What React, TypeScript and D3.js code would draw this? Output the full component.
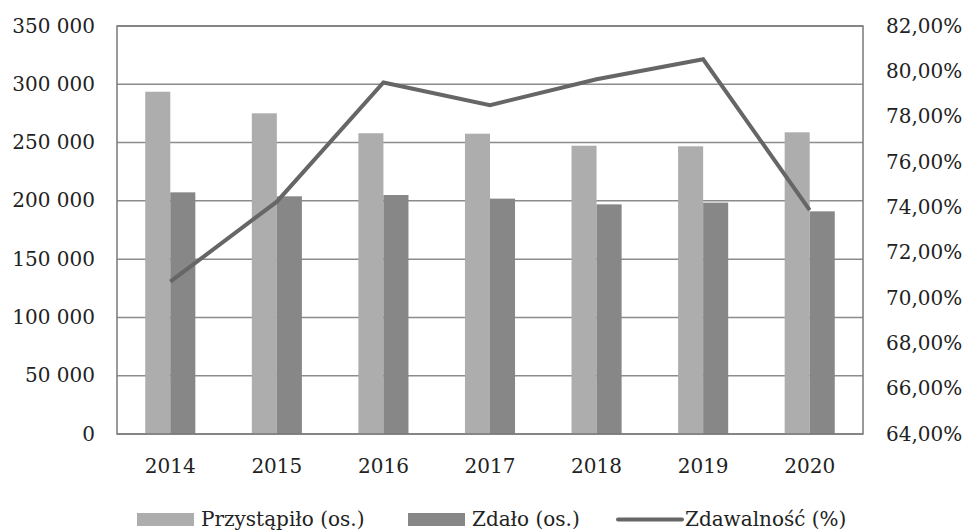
import React from "react";
import * as d3 from "d3";

const years = ["2014", "2015", "2016", "2017", "2018", "2019", "2020"];
const przystapilo = [293600, 275100, 258000, 257600, 247300, 246800, 258800];
const zdalo = [207300, 203900, 205000, 201900, 197000, 198500, 191000];
const zdawalnosc = [0.7072, 0.7425, 0.7951, 0.7851, 0.7965, 0.8053, 0.7388];
const leftTicks = [0, 50000, 100000, 150000, 200000, 250000, 300000, 350000];
const rightTicks = [0.64, 0.66, 0.68, 0.7, 0.72, 0.74, 0.76, 0.78, 0.8, 0.82];
const seriesNames = ["Przystąpiło (os.)", "Zdało (os.)", "Zdawalność (%)"];

const W = 965;
const H = 531;
const plot = { left: 117, right: 863, top: 26, bottom: 434 };
const FONT = "'DejaVu Serif', serif";
const colLight = "#adadad";
const colDark = "#878787";
const colLine = "#666666";
const colGrid = "#8c8c8c";
const colFrame = "#7a7a7a";
const colText = "#222222";

export default function App() {
  const x = d3.scaleBand<string>().domain(years).range([plot.left, plot.right]).padding(0);
  const yL = d3.scaleLinear().domain([0, 350000]).range([plot.bottom, plot.top]);
  const yR = d3.scaleLinear().domain([0.64, 0.82]).range([plot.bottom, plot.top]);
  const bw = x.bandwidth() * 0.235;
  const fmtL = (v: number) => d3.format(",")(v).replace(/,/g, " ");
  const fmtR = (v: number) => (v * 100).toFixed(2).replace(".", ",") + "%";
  const line = d3
    .line<number>()
    .x((_, i) => (x(years[i]) as number) + x.bandwidth() / 2)
    .y((d) => yR(d));

  return (
    <svg width={W} height={H} style={{ position: "absolute", left: 0, top: 0, background: "#fff" }}>
      <rect x={0} y={0} width={W} height={H} fill="#fff" />
      {/* gridlines */}
      {leftTicks.map((t) => (
        <line key={"g" + t} x1={plot.left} x2={plot.right} y1={yL(t)} y2={yL(t)} stroke={colGrid} strokeWidth={1.5} />
      ))}
      {/* bars */}
      {years.map((yr, i) => {
        const c = (x(yr) as number) + x.bandwidth() / 2;
        return (
          <g key={"b" + yr}>
            <rect x={c - bw} y={yL(przystapilo[i])} width={bw} height={yL(0) - yL(przystapilo[i])} fill={colLight} />
            <rect x={c} y={yL(zdalo[i])} width={bw} height={yL(0) - yL(zdalo[i])} fill={colDark} />
          </g>
        );
      })}
      {/* frame */}
      <rect x={plot.left} y={plot.top} width={plot.right - plot.left} height={plot.bottom - plot.top} fill="none" stroke={colFrame} strokeWidth={1.5} />
      {/* line */}
      <path d={line(zdawalnosc) || ""} fill="none" stroke={colLine} strokeWidth={4} strokeLinejoin="miter" />
      {/* left axis labels */}
      {leftTicks.map((t) => (
        <text key={"l" + t} x={95} y={yL(t) + 1} textAnchor="end" dominantBaseline="middle" fontFamily={FONT} fontSize={20} fill={colText}>
          {fmtL(t)}
        </text>
      ))}
      {/* right axis labels */}
      {rightTicks.map((t) => (
        <text key={"r" + t} x={886} y={yR(t) + 1} textAnchor="start" dominantBaseline="middle" fontFamily={FONT} fontSize={20} fill={colText}>
          {fmtR(t)}
        </text>
      ))}
      {/* x labels */}
      {years.map((yr) => (
        <text key={"x" + yr} x={(x(yr) as number) + x.bandwidth() / 2} y={473} textAnchor="middle" fontFamily={FONT} fontSize={20} fill={colText}>
          {yr}
        </text>
      ))}
      {/* legend */}
      <rect x={137} y={513} width={57} height={13} fill={colLight} />
      <text x={201} y={526} fontFamily={FONT} fontSize={20} fill={colText}>{seriesNames[0]}</text>
      <rect x={408} y={513} width={57} height={13} fill={colDark} />
      <text x={472} y={526} fontFamily={FONT} fontSize={20} fill={colText}>{seriesNames[1]}</text>
      <line x1={618} x2={682} y1={519.5} y2={519.5} stroke={colLine} strokeWidth={4} strokeLinecap="round" />
      <text x={685} y={526} fontFamily={FONT} fontSize={20} fill={colText}>{seriesNames[2]}</text>
    </svg>
  );
}
